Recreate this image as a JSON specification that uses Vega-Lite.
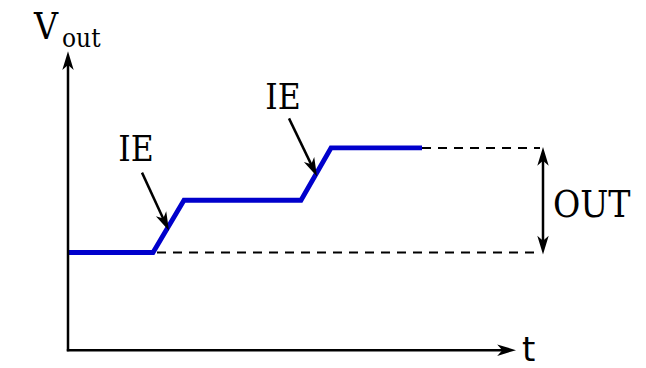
{
  "$schema": "https://vega.github.io/schema/vega-lite/v6.json",
  "width": 646,
  "height": 368,
  "autosize": {"type": "fit", "contains": "padding"},
  "padding": 0,
  "background": "white",
  "config": {"view": {"stroke": null}},
  "datasets": {
    "signal": [
      {"t": 68, "v": 112}, {"t": 153, "v": 112}, {"t": 184, "v": 165},
      {"t": 301, "v": 165}, {"t": 331, "v": 218}, {"t": 422, "v": 218}
    ],
    "dashed": [
      {"t": 157, "v": 112, "t2": 540, "v2": 112},
      {"t": 422, "v": 218, "t2": 540, "v2": 218}
    ],
    "segments": [
      {"t": 68, "v": 12, "t2": 68, "v2": 302},
      {"t": 66.8, "v": 13, "t2": 505, "v2": 13},
      {"t": 543, "v": 118, "t2": 543, "v2": 211},
      {"t": 142, "v": 193, "t2": 165.7, "v2": 141},
      {"t": 289, "v": 248, "t2": 313.7, "v2": 196}
    ],
    "heads": [
      {"t": 68, "v": 316, "dir": 0},
      {"t": 516, "v": 13, "dir": 90},
      {"t": 543, "v": 219, "dir": 0},
      {"t": 543, "v": 110, "dir": 180},
      {"t": 169, "v": 134, "dir": 155},
      {"t": 317, "v": 189, "dir": 155}
    ],
    "centerLabels": [
      {"label": "IE", "t": 136, "v": 205},
      {"label": "IE", "t": 283, "v": 258}
    ],
    "leftLabels": [
      {"label": "OUT", "t": 553, "v": 148},
      {"label": "V", "t": 34, "v": 328}
    ],
    "tLabel": [
      {"label": "t", "t": 522, "v": 2}
    ],
    "subLabels": [
      {"label": "out", "t": 62, "v": 320}
    ]
  },
  "encoding": {
    "x": {"field": "t", "type": "quantitative", "scale": {"domain": [0, 646], "nice": false, "zero": false}, "axis": null},
    "y": {"field": "v", "type": "quantitative", "scale": {"domain": [0, 368], "nice": false, "zero": false}, "axis": null}
  },
  "layer": [
    {
      "data": {"name": "dashed"},
      "mark": {"type": "rule", "color": "black", "strokeWidth": 2, "strokeDash": [9, 7]},
      "encoding": {"x2": {"field": "t2"}, "y2": {"field": "v2"}}
    },
    {
      "data": {"name": "signal"},
      "mark": {"type": "line", "color": "#0000cc", "strokeWidth": 4.8, "strokeJoin": "miter"},
      "encoding": {"order": {"field": "t", "type": "quantitative"}}
    },
    {
      "data": {"name": "segments"},
      "mark": {"type": "rule", "color": "black", "strokeWidth": 2.5},
      "encoding": {"x2": {"field": "t2"}, "y2": {"field": "v2"}}
    },
    {
      "data": {"name": "heads"},
      "mark": {"type": "point", "filled": true, "color": "black", "opacity": 1, "strokeWidth": 0, "size": 520,
               "shape": "M0,0 L0.5,1.65 L0,1.2 L-0.5,1.65 Z"},
      "encoding": {"angle": {"field": "dir", "type": "quantitative", "scale": null}}
    },
    {
      "data": {"name": "centerLabels"},
      "mark": {"type": "text", "font": "DejaVu Serif Condensed, DejaVu Serif", "fontSize": 35, "align": "center", "baseline": "alphabetic", "color": "black"},
      "encoding": {"text": {"field": "label"}}
    },
    {
      "data": {"name": "leftLabels"},
      "mark": {"type": "text", "font": "DejaVu Serif Condensed, DejaVu Serif", "fontSize": 37, "align": "left", "baseline": "alphabetic", "color": "black"},
      "encoding": {"text": {"field": "label"}}
    },
    {
      "data": {"name": "tLabel"},
      "mark": {"type": "text", "font": "DejaVu Sans", "fontSize": 34, "align": "left", "baseline": "alphabetic", "color": "black"},
      "encoding": {"text": {"field": "label"}}
    },
    {
      "data": {"name": "subLabels"},
      "mark": {"type": "text", "font": "DejaVu Serif Condensed, DejaVu Serif", "fontSize": 26, "align": "left", "baseline": "alphabetic", "color": "black"},
      "encoding": {"text": {"field": "label"}}
    }
  ]
}
